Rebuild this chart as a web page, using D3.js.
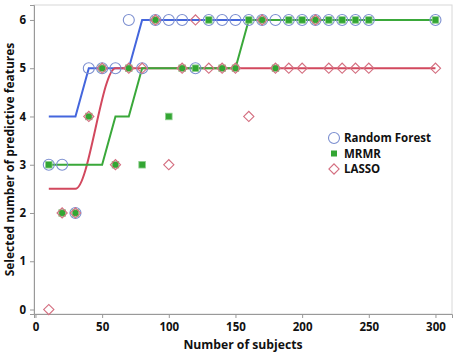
<!DOCTYPE html>
<html><head><meta charset="utf-8">
<script src="https://cdn.jsdelivr.net/npm/d3@7"></script>
<style>
html,body{margin:0;padding:0;background:#fff;}
svg{display:block;}
text{font-family:"Open Sans","Noto Sans",sans-serif;font-weight:700;fill:#111;}
</style></head>
<body>
<script>
// ---- data ----
const subjects = [10,20,30,40,50,60,70,80,90,100,110,120,130,140,150,160,170,180,190,200,210,220,230,240,250,300];
const rfValues    = [3,3,2,5,5,5,6,5,6,6,6,5,6,6,6,6,6,6,6,6,6,6,6,6,6,6];
const mrmrValues  = [3,2,2,4,5,3,5,3,6,4,5,5,6,5,5,6,6,5,6,6,6,6,6,6,6,6];
const lassoValues = [0,2,2,4,5,3,5,5,6,3,5,6,5,5,5,4,6,5,5,5,6,5,5,5,5,5];
// fitted step lines (vertices)
const rfLineX    = [10,30,40,70,80,300];
const rfLineY    = [4,4,5,5,6,6];
const mrmrLineX  = [10,50,60,70,80,150,160,300];
const mrmrLineY  = [3,3,4,4,5,5,6,6];
const lassoLineX = [10,30,60,300];
const lassoLineY = [2.5,2.5,5,5];
const xTicks = [0,50,100,150,200,250,300];
const yTicks = [0,1,2,3,4,5,6];
const seriesNames = ["Random Forest","MRMR","LASSO"];

const W = 457, H = 356;
const L = 34, R = 452, T = 5, B = 314;
const x = d3.scaleLinear().domain([-1.1, 312.4]).range([L, R]);
const y = d3.scaleLinear().domain([-0.093, 6.31]).range([B, T]);

const svg = d3.select("body").append("svg").attr("width", W).attr("height", H);

// frame
svg.append("rect").attr("x", L).attr("y", T).attr("width", R - L).attr("height", B - T)
  .attr("fill", "#fff").attr("stroke", "#d8d8d8").attr("stroke-width", 1);

// axes
const xAxis = svg.append("g").attr("transform", `translate(0,${B})`)
  .call(d3.axisBottom(x).tickValues(xTicks).tickSize(4).tickPadding(5).tickFormat(d3.format("d")));
const yAxis = svg.append("g").attr("transform", `translate(${L},0)`)
  .call(d3.axisLeft(y).tickValues(yTicks).tickSize(4).tickPadding(4).tickFormat(d3.format("d")));
[xAxis, yAxis].forEach(g => {
  g.select(".domain").attr("stroke", "#999");
  g.selectAll(".tick line").attr("stroke", "#999");
  g.selectAll(".tick text").style("font-size", "11.5px").style("font-weight", "700")
    .style("font-family", '"Open Sans",sans-serif').attr("fill", "#111");
});

// titles
svg.append("text").attr("x", (L + R) / 2).attr("y", 349).attr("text-anchor", "middle")
  .style("font-size", "12.2px").text("Number of subjects");
svg.append("text").attr("transform", `translate(10,${(T + B) / 2}) rotate(-90)`)
  .attr("text-anchor", "middle").attr("dy", "0.35em")
  .style("font-size", "12px").text("Selected number of predictive features");

// lines
const line = d3.line().x(d => x(d[0])).y(d => y(d[1]));
const lineSmooth = d3.line().x(d => x(d[0])).y(d => y(d[1])).curve(d3.curveMonotoneX);
const blue = "#4466dd", green = "#3aa83a", red = "#d2485e";
svg.append("path").datum(rfLineX.map((v, i) => [v, rfLineY[i]])).attr("d", line)
  .attr("fill", "none").attr("stroke", blue).attr("stroke-width", 2);
svg.append("path").datum(lassoLineX.map((v, i) => [v, lassoLineY[i]])).attr("d", lineSmooth)
  .attr("fill", "none").attr("stroke", red).attr("stroke-width", 2);
svg.append("path").datum(mrmrLineX.map((v, i) => [v, mrmrLineY[i]])).attr("d", line)
  .attr("fill", "none").attr("stroke", green).attr("stroke-width", 2);

// markers
const circStroke = "#7c8fd0", sqFill = "#33a633", diaStroke = "#d46f80";
svg.append("g").selectAll("circle").data(subjects.map((s, i) => [s, rfValues[i]])).join("circle")
  .attr("cx", d => x(d[0])).attr("cy", d => y(d[1])).attr("r", 5.5)
  .attr("fill", "none").attr("stroke", circStroke).attr("stroke-width", 1.1);
svg.append("g").selectAll("rect").data(subjects.map((s, i) => [s, mrmrValues[i]])).join("rect")
  .attr("x", d => x(d[0]) - 3.3).attr("y", d => y(d[1]) - 3.3).attr("width", 6.6).attr("height", 6.6)
  .attr("fill", sqFill).attr("stroke", "#8fcf8f").attr("stroke-width", 0.8);
svg.append("g").selectAll("path").data(subjects.map((s, i) => [s, lassoValues[i]])).join("path")
  .attr("transform", d => `translate(${x(d[0])},${y(d[1])}) rotate(45)`)
  .attr("d", d3.symbol().type(d3.symbolSquare).size(52))
  .attr("fill", "none").attr("stroke", diaStroke).attr("stroke-width", 1.1);

// legend
const lg = svg.append("g").attr("transform", "translate(334,138)");
const rows = [0, 15.5, 31];
lg.append("circle").attr("cx", 0).attr("cy", rows[0]).attr("r", 5.5)
  .attr("fill", "none").attr("stroke", circStroke).attr("stroke-width", 1.1);
lg.append("rect").attr("x", -3).attr("y", rows[1] - 3).attr("width", 6).attr("height", 6).attr("fill", sqFill);
lg.append("path").attr("transform", `translate(0,${rows[2]}) rotate(45)`)
  .attr("d", d3.symbol().type(d3.symbolSquare).size(52))
  .attr("fill", "none").attr("stroke", diaStroke).attr("stroke-width", 1.1);
seriesNames.forEach((n, i) => {
  lg.append("text").attr("x", 10).attr("y", rows[i]).attr("dy", "0.36em")
    .style("font-size", "11.5px").text(n);
});
</script>
</body></html>
